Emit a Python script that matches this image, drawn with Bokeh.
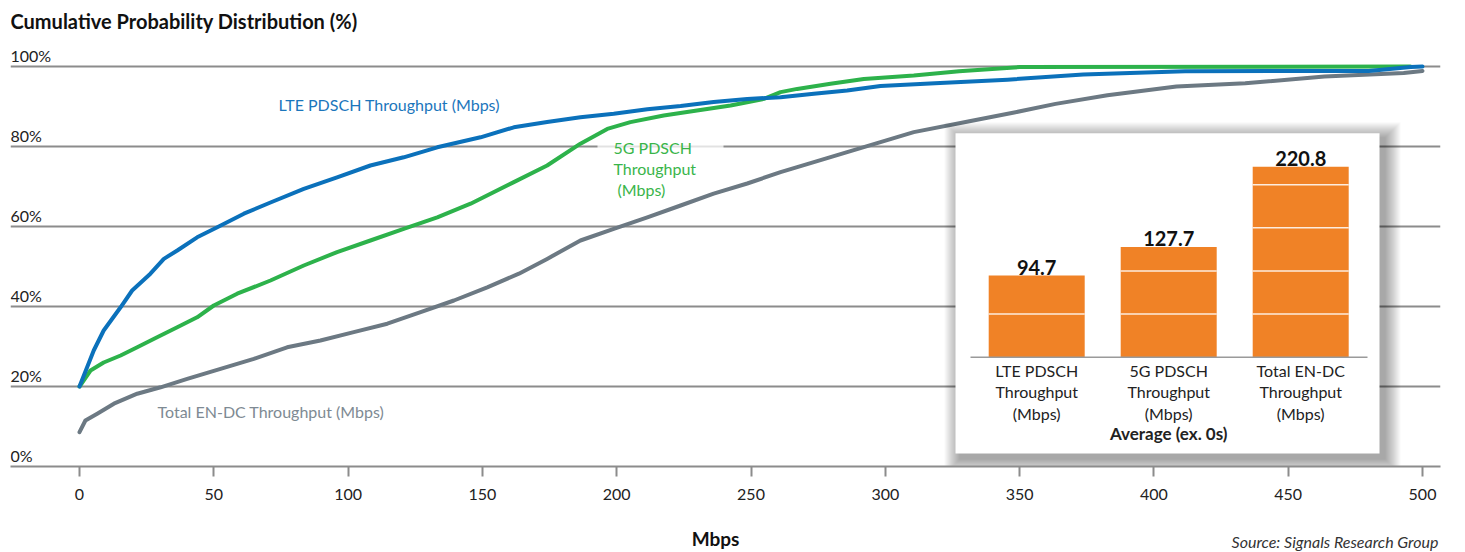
from bokeh.plotting import figure
from bokeh.layouts import column
from bokeh.models import Range1d, FixedTicker
from bokeh.core.properties import value
from bokeh.embed import file_html
from bokeh.resources import INLINE

# ---------------- data ----------------
# Cumulative distributions (x = Mbps, y = cumulative %)
lte_x = [0, 5.3, 9, 15.3, 19.6, 26.4, 31.4, 36.4, 43.8, 51.3, 61.2, 71.1, 83.5, 95.9,
         108.3, 120.7, 133.2, 149.3, 161.7, 174.1, 186.5, 198.9, 211.4, 223.8, 236.1,
         248.6, 261, 273.4, 285.8, 298.2, 318.5, 345.5, 373.7, 411.6, 480, 495.6, 500]
lte_y = [20, 29, 34, 39.8, 44, 48.2, 51.9, 54, 57.3, 59.8, 63.2, 66, 69.4, 72.3,
         75.25, 77.3, 79.8, 82.3, 84.8, 86.1, 87.3, 88.2, 89.3, 90.1, 91.1,
         91.9, 92.3, 93.2, 94, 95.1, 95.8, 96.7, 98, 98.8, 98.9, 99.85, 100]

nr_x = [0, 4.1, 9, 15.3, 21.5, 28.9, 36.4, 43.8, 50, 58.7, 71.1, 83.5, 95.9, 108.3,
        120.7, 133.2, 145.6, 161.7, 174.1, 186.5, 196.5, 205.1, 217.5, 229.9, 242.4,
        254.8, 261, 267.2, 279.6, 292, 310.6, 327.5, 350, 495.5]
nr_y = [20, 24, 26, 27.75, 29.8, 32.3, 34.8, 37.3, 40.25, 43.2, 46.5, 50.25, 53.6, 56.5,
        59.4, 62.3, 65.7, 71.1, 75.25, 80.7, 84.4, 86.1, 87.75, 89, 90.25,
        91.9, 93.6, 94.4, 95.7, 96.9, 97.75, 98.8, 99.85, 100]

endc_x = [0, 2.2, 6.6, 12.8, 21.5, 30.2, 40.1, 52.5, 64.9, 77.3, 89.7, 102.1, 114.6,
          127, 139.4, 151.8, 163.6, 174.1, 186.5, 198.9, 211.4, 223.8, 236.1, 248.6,
          261, 273.4, 285.8, 298.2, 310.6, 331.3, 348, 363.4, 382.7, 408.4, 434,
          463.5, 493, 500]
endc_y = [8.6, 11.5, 13.2, 15.7, 18.2, 19.8, 21.9, 24.4, 26.9, 29.8, 31.5, 33.6, 35.7,
          38.6, 41.5, 44.8, 48.2, 51.9, 56.5, 59.4, 62.3, 65.25, 68.2, 70.75,
          73.6, 76.1, 78.6, 81.1, 83.6, 86.3, 88.5, 90.65, 92.8, 95, 95.8,
          97.5, 98.4, 98.9]

x_ticks = [0, 50, 100, 150, 200, 250, 300, 350, 400, 450, 500]
y_ticks = [0, 20, 40, 60, 80, 100]
y_tick_labels = ["0%", "20%", "40%", "60%", "80%", "100%"]

# Inset: average throughput (excluding zeros)
avg_labels = [["LTE PDSCH", "Throughput", "(Mbps)"],
              ["5G PDSCH", "Throughput", "(Mbps)"],
              ["Total EN-DC", "Throughput", "(Mbps)"]]
avg_values = [94.7, 127.7, 220.8]
avg_note = "Average (ex. 0s)"
inner_levels = [50, 100, 150, 200]

chart_title = "Cumulative Probability Distribution (%)"
x_title = "Mbps"
source_note = "Source: Signals Research Group"

# ---------------- layout ----------------
W = 1465
HEAD_H, MAIN_H, FOOT_H = 40, 486, 26          # stacked vertically, 552 total
FL, FR, FT, FB = 10, 1440, 40, 466            # main frame edges (page px)
X0_PX, X500_PX = 79, 1422                     # where x=0 and x=500 sit
Y0_PX, Y100_PX = 466, 66                      # where 0% and 100% sit

ux = 500.0 / (X500_PX - X0_PX)                 # data units per px
uy = 100.0 / (Y0_PX - Y100_PX)


def dx(px):
    return (px - X0_PX) * ux


def dy(py):
    return (Y0_PX - py) * uy


FONT = "Lato"
TXT = "#222222"
BLUE, GREEN, GRAY = "#0B71BB", "#2DB24B", "#6C7983"
BLUE_T, GREEN_T, GRAY_T = "#1B76BC", "#39B54A", "#7E8A93"
ORANGE = "#F08226"
GRID = "#8C8C8C"


def text_strip(height, top_px):
    """A bare figure whose data coordinates are page pixels (y downwards).
    The column lines its frame up with the main chart's frame (FL..FR)."""
    f = figure(width=W, height=height, x_range=Range1d(FL, FR),
               y_range=Range1d(top_px + height, top_px),
               output_backend="svg", toolbar_location=None,
               x_axis_location=None, y_axis_location=None,
               min_border_left=FL, min_border_right=W - FR,
               min_border_top=0, min_border_bottom=0)
    f.outline_line_color = None
    f.xgrid.visible = False
    f.ygrid.visible = False
    return f


# header with the chart title
head = text_strip(HEAD_H, 0)
head.text(x=[FL], y=[20], text=[chart_title], text_font=value(FONT),
          text_font_size="20px", text_font_style="bold", text_color="#111111",
          text_align="left", text_baseline="middle")

# ---------------- main chart ----------------
p = figure(width=W, height=MAIN_H,
           x_range=Range1d(dx(FL), dx(FR)), y_range=Range1d(dy(FB), dy(FT)),
           output_backend="svg", toolbar_location=None,
           min_border_left=FL, min_border_right=W - FR,
           min_border_top=0, min_border_bottom=HEAD_H + MAIN_H - FB,
           y_axis_location=None, background_fill_color="white",
           border_fill_color="white")
p.outline_line_color = None

p.xgrid.visible = False
p.ygrid.ticker = FixedTicker(ticks=[t for t in y_ticks if t > 0])
p.ygrid.grid_line_color = GRID
p.ygrid.grid_line_width = 2

ax = p.xaxis[0]
ax.ticker = FixedTicker(ticks=x_ticks)
ax.axis_line_color = GRID
ax.axis_line_width = 2
ax.major_tick_line_color = GRID
ax.major_tick_line_width = 2
ax.major_tick_out = 10
ax.major_tick_in = 0
ax.minor_tick_line_color = None
ax.major_label_standoff = 12
ax.major_label_text_font = FONT
ax.major_label_text_font_size = "16px"
ax.major_label_text_color = TXT

# y tick labels sitting above the grid lines
p.text(x=[dx(FL)] * len(y_ticks), y=y_ticks, text=y_tick_labels,
       text_font=value(FONT), text_font_size="16px", text_color=TXT,
       text_align="left", text_baseline="middle", y_offset=-11)

# light band behind the 5G series label
p.quad(left=dx(597), right=dx(723), top=dy(141), bottom=dy(151),
       fill_color="white", fill_alpha=0.75, line_color=None)

# CDF curves
for xs, ys, col in [(endc_x, endc_y, GRAY), (nr_x, nr_y, GREEN), (lte_x, lte_y, BLUE)]:
    p.line(xs, ys, line_color=col, line_width=4, line_join="round", line_cap="round")

# series labels
p.text(x=[dx(278)], y=[dy(104)], text=["LTE PDSCH Throughput (Mbps)"],
       text_font=value(FONT), text_font_size="16px", text_color=BLUE_T,
       text_baseline="middle")
p.text(x=[dx(613), dx(613), dx(617)], y=[dy(147), dy(168), dy(189)],
       text=["5G PDSCH", "Throughput", "(Mbps)"],
       text_font=value(FONT), text_font_size="16px", text_color=GREEN_T,
       text_baseline="middle")
p.text(x=[dx(157)], y=[dy(411)], text=["Total EN-DC Throughput (Mbps)"],
       text_font=value(FONT), text_font_size="16px", text_color=GRAY_T,
       text_baseline="middle")

# ---------------- inset bar chart ----------------
BAR0_PX, BAR_STEP_PX, BAR_W_PX = 1036.2, 132.0, 96.0
BASE_PX, PX_PER_MBPS = 356.7, 0.8627


def ix(px):
    return (px - BAR0_PX) / BAR_STEP_PX


def iy(py):
    return (BASE_PX - py) / PX_PER_MBPS


p.extra_x_ranges = {"inset": Range1d(ix(FL), ix(FR))}
p.extra_y_ranges = {"inset": Range1d(iy(FB), iy(FT))}
rn = dict(x_range_name="inset", y_range_name="inset")

BOX = (955, 132.7, 1379, 453)  # left, top, right, bottom (px)
for k in range(1, 17):
    p.quad(left=ix(BOX[0] + 5 - k), right=ix(BOX[2] + 5 + k),
           top=iy(BOX[1] + 5 - k), bottom=iy(BOX[3] + 5 + k),
           fill_color="black", fill_alpha=0.024, line_color=None, **rn)
p.quad(left=ix(BOX[0]), right=ix(BOX[2]), top=iy(BOX[1]), bottom=iy(BOX[3]),
       fill_color="white", line_color=None, **rn)

idx = list(range(len(avg_values)))
bw = BAR_W_PX / BAR_STEP_PX
p.vbar(x=idx, top=avg_values, bottom=0, width=bw, fill_color=ORANGE,
       line_color=None, **rn)

# white rules inside the bars
sx0, sy0, sx1, sy1 = [], [], [], []
for i, v in zip(idx, avg_values):
    for lv in inner_levels:
        if lv < v:
            sx0.append(i - bw / 2); sx1.append(i + bw / 2)
            sy0.append(lv); sy1.append(lv)
p.segment(x0=sx0, y0=sy0, x1=sx1, y1=sy1, line_color="white", line_width=1.5,
          line_alpha=0.85, **rn)

# baseline
p.segment(x0=[ix(970)], y0=[0], x1=[ix(1367)], y1=[0], line_color="#9A9A9A",
          line_width=1.5, **rn)

# value labels
p.text(x=idx, y=avg_values, text=[f"{v:.1f}" for v in avg_values],
       text_font=value(FONT), text_font_size="20px", text_font_style="bold",
       text_color="#111111", text_align="center", text_baseline="bottom",
       y_offset=-1, **rn)

# category labels
for j in range(3):
    p.text(x=idx, y=[0] * len(idx), text=[lab[j] for lab in avg_labels],
           text_font=value(FONT), text_font_size="16px", text_color=TXT,
           text_align="center", text_baseline="middle", y_offset=13.5 + 21.2 * j, **rn)
p.text(x=[1], y=[0], text=[avg_note], text_font=value(FONT), text_font_size="17px",
       text_font_style="bold", text_color=TXT, text_align="center",
       text_baseline="middle", y_offset=76.5, **rn)

# ---------------- footer: axis title and source ----------------
foot = text_strip(FOOT_H, HEAD_H + MAIN_H)
foot.text(x=[715], y=[538], text=[x_title], text_font=value(FONT),
          text_font_size="19px", text_font_style="bold", text_color="#111111",
          text_align="center", text_baseline="middle")
foot.text(x=[FR - 2], y=[541], text=[source_note], text_font=value(FONT),
          text_font_size="16px", text_font_style="italic", text_color="#333333",
          text_align="right", text_baseline="middle")

page = column(head, p, foot, spacing=0)
open("out.html", "w").write(file_html(page, INLINE))
